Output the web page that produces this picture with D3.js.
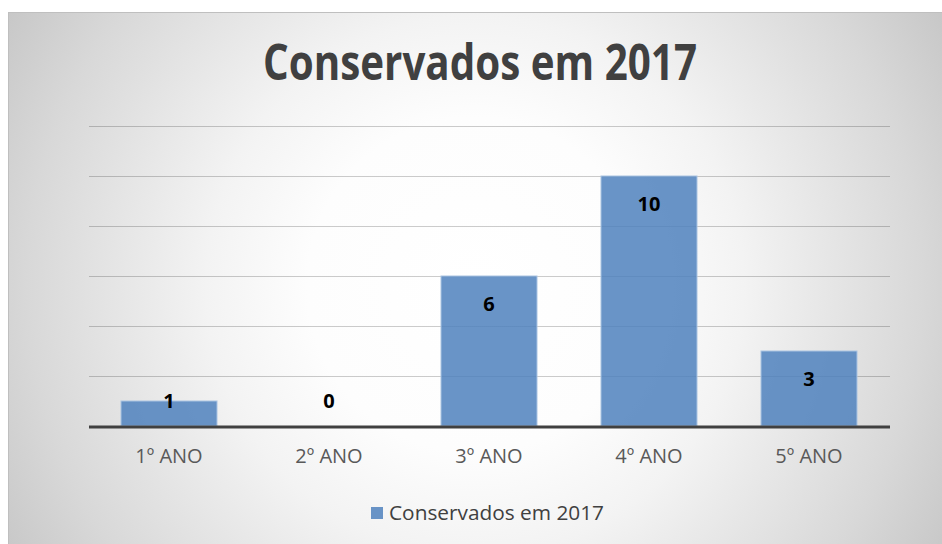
<!DOCTYPE html>
<html>
<head>
<meta charset="utf-8">
<script src="https://cdn.jsdelivr.net/npm/d3@7"></script>
<style>
  body { margin: 0; background: #fff; }
  svg { display: block; }
</style>
</head>
<body>
<svg id="chart" width="942" height="544"></svg>
<script>
const categories = ['1º ANO', '2º ANO', '3º ANO', '4º ANO', '5º ANO'];
const values = [1, 0, 6, 10, 3];
const yTicks = [0, 2, 4, 6, 8, 10, 12];
const seriesName = 'Conservados em 2017';
const title = 'Conservados em 2017';

const svg = d3.select('#chart');

// fundo com gradiente radial
const defs = svg.append('defs');
const grad = defs.append('radialGradient')
  .attr('id', 'bg')
  .attr('gradientUnits', 'userSpaceOnUse')
  .attr('cx', 475).attr('cy', 285).attr('r', 560);
grad.append('stop').attr('offset', '0%').attr('stop-color', '#ffffff');
grad.append('stop').attr('offset', '30%').attr('stop-color', '#fdfdfd');
grad.append('stop').attr('offset', '48%').attr('stop-color', '#f3f3f3');
grad.append('stop').attr('offset', '80%').attr('stop-color', '#d8d8d8');
grad.append('stop').attr('offset', '100%').attr('stop-color', '#c4c4c4');

svg.append('rect')
  .attr('x', 8.5).attr('y', 12.5)
  .attr('width', 942).attr('height', 540)
  .attr('fill', 'url(#bg)')
  .attr('stroke', '#bfbfbf');

const x = d3.scaleBand()
  .domain(categories)
  .range([89, 889])
  .paddingInner(0.4)
  .paddingOuter(0.2);

const y = d3.scaleLinear()
  .domain([0, 12])
  .range([426, 126]);

// linhas de grade
svg.append('g')
  .selectAll('line')
  .data(yTicks.filter(d => d > 0))
  .join('line')
  .attr('x1', 89).attr('x2', 890)
  .attr('y1', d => Math.round(y(d)) + 0.5)
  .attr('y2', d => Math.round(y(d)) + 0.5)
  .attr('stroke', '#000')
  .attr('stroke-opacity', 0.2)
  .attr('stroke-width', 1);

// barras
svg.append('g')
  .selectAll('rect')
  .data(values)
  .join('rect')
  .attr('x', (d, i) => x(categories[i]))
  .attr('y', d => y(d))
  .attr('width', x.bandwidth())
  .attr('height', d => y(0) - y(d))
  .attr('fill', '#4f81bd')
  .attr('fill-opacity', 0.85)
  .attr('stroke', '#a9c3e2')
  .attr('stroke-width', d => d > 0 ? 1 : 0);

// eixo x
const xAxis = d3.axisBottom(x).tickSize(0).tickPadding(23);
const gx = svg.append('g')
  .attr('transform', 'translate(0,' + y(0) + ')')
  .call(xAxis);
gx.select('.domain').remove();
gx.selectAll('text')
  .attr('font-family', 'Open Sans, sans-serif')
  .attr('font-size', 20)
  .attr('fill', '#595959');
svg.append('line')
  .attr('x1', 89).attr('x2', 890)
  .attr('y1', y(0) + 1).attr('y2', y(0) + 1)
  .attr('stroke', '#404040')
  .attr('stroke-width', 3);

// rótulos de dados
svg.append('g')
  .selectAll('text')
  .data(values)
  .join('text')
  .attr('x', (d, i) => x(categories[i]) + x.bandwidth() / 2)
  .attr('y', d => Math.min(y(d) + 28, y(0) - 25))
  .attr('dy', '0.35em')
  .attr('text-anchor', 'middle')
  .attr('font-family', 'Open Sans, sans-serif')
  .attr('font-weight', 'bold')
  .attr('font-size', 20)
  .attr('fill', '#000')
  .text(d => d);

// título
svg.append('text')
  .attr('x', 480)
  .attr('y', 80)
  .attr('text-anchor', 'middle')
  .attr('font-family', 'Open Sans, sans-serif')
  .attr('font-weight', 'bold')
  .attr('font-size', 50)
  .attr('fill', '#404040')
  .attr('textLength', 434)
  .attr('lengthAdjust', 'spacingAndGlyphs')
  .text(title);

// legenda
const lg = svg.append('g').attr('transform', 'translate(371,507)');
lg.append('rect')
  .attr('width', 12).attr('height', 12)
  .attr('fill', '#4f81bd').attr('fill-opacity', 0.85);
lg.append('text')
  .attr('x', 18).attr('y', 6)
  .attr('dy', '0.35em')
  .attr('font-family', 'Open Sans, sans-serif')
  .attr('font-size', 20)
  .attr('fill', '#404040')
  .attr('textLength', 215)
  .attr('lengthAdjust', 'spacingAndGlyphs')
  .text(seriesName);
</script>
</body>
</html>
